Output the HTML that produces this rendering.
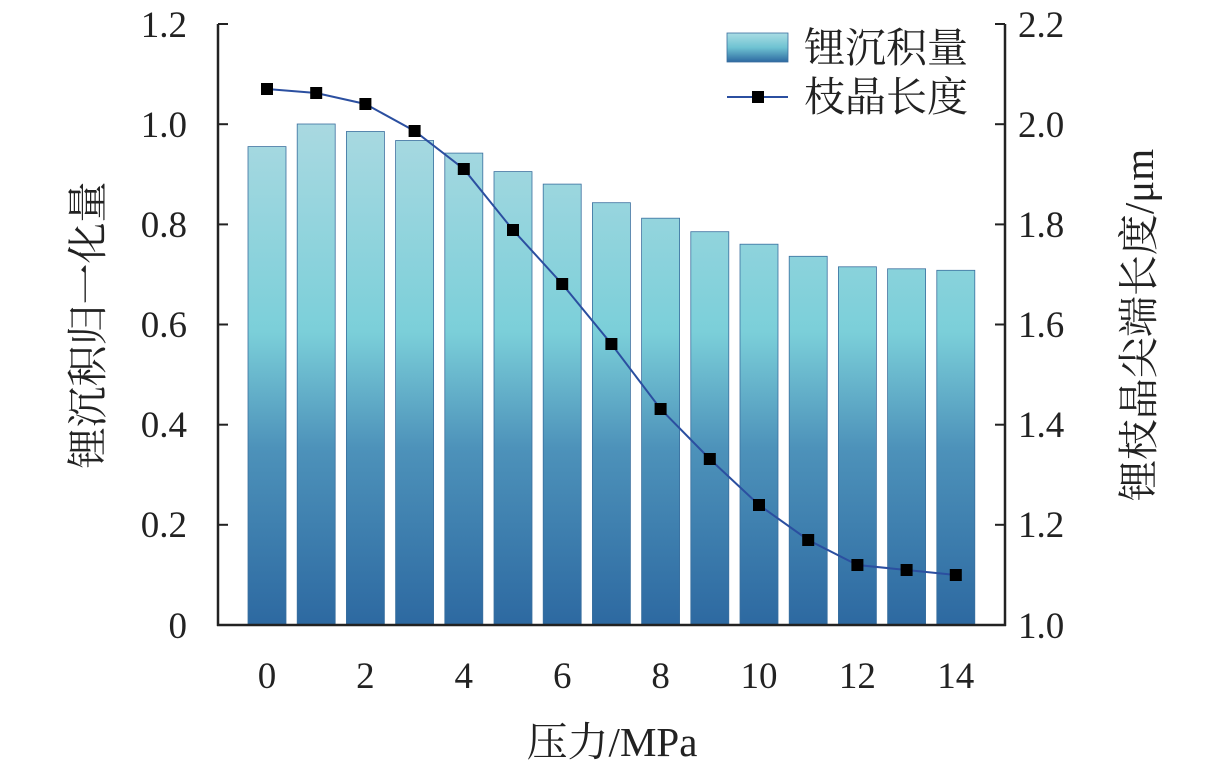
<!DOCTYPE html>
<html><head><meta charset="utf-8"><style>body{margin:0;background:#fff}</style></head><body>
<svg width="1228" height="767" xmlns="http://www.w3.org/2000/svg" font-family="'Liberation Serif','Noto Serif CJK SC',serif">
<defs>
<linearGradient id="g" gradientUnits="userSpaceOnUse" x1="0" y1="120" x2="0" y2="625">
<stop offset="0" stop-color="#aad9e1"/>
<stop offset="0.42" stop-color="#7bcfd9"/>
<stop offset="0.65" stop-color="#4d92ba"/>
<stop offset="1" stop-color="#2d69a1"/>
</linearGradient>
<linearGradient id="lg" x1="0" y1="0" x2="0" y2="1">
<stop offset="0" stop-color="#aadde4"/>
<stop offset="0.5" stop-color="#6fc3d2"/>
<stop offset="1" stop-color="#2d69a1"/>
</linearGradient>
</defs>
<g fill="url(#g)" stroke="#3a6f9e" stroke-width="0.8">
<rect x="248" y="146.6" width="38" height="478.4"/>
<rect x="297.2" y="124" width="38" height="501"/>
<rect x="346.4" y="131.5" width="38" height="493.5"/>
<rect x="395.6" y="140.5" width="38" height="484.5"/>
<rect x="444.8" y="153.1" width="38" height="471.9"/>
<rect x="494" y="171.6" width="38" height="453.4"/>
<rect x="543.2" y="184.1" width="38" height="440.9"/>
<rect x="592.4" y="202.7" width="38" height="422.3"/>
<rect x="641.6" y="218.2" width="38" height="406.8"/>
<rect x="690.8" y="231.7" width="38" height="393.3"/>
<rect x="740" y="244.2" width="38" height="380.8"/>
<rect x="789.2" y="256.3" width="38" height="368.7"/>
<rect x="838.4" y="266.8" width="38" height="358.2"/>
<rect x="887.6" y="268.8" width="38" height="356.2"/>
<rect x="936.8" y="270.3" width="38" height="354.7"/>
</g>
<g stroke="#222" stroke-width="2.5" fill="none">
<line x1="218" y1="24" x2="218" y2="626"/>
<line x1="1005" y1="24" x2="1005" y2="626"/>
<line x1="217" y1="625" x2="1006" y2="625"/>
</g>
<g stroke="#222" stroke-width="2">
<line x1="218" y1="24" x2="228" y2="24"/><line x1="218" y1="124.2" x2="228" y2="124.2"/><line x1="218" y1="224.4" x2="228" y2="224.4"/><line x1="218" y1="324.5" x2="228" y2="324.5"/><line x1="218" y1="424.7" x2="228" y2="424.7"/><line x1="218" y1="524.8" x2="228" y2="524.8"/>
<line x1="995" y1="24" x2="1005" y2="24"/><line x1="995" y1="124.2" x2="1005" y2="124.2"/><line x1="995" y1="224.4" x2="1005" y2="224.4"/><line x1="995" y1="324.5" x2="1005" y2="324.5"/><line x1="995" y1="424.7" x2="1005" y2="424.7"/><line x1="995" y1="524.8" x2="1005" y2="524.8"/>
</g>
<polyline fill="none" stroke="#2b4fa0" stroke-width="2" points="267,89 316.2,93 365.4,104 414.6,131 463.8,169 513,230 562.2,284 611.4,344 660.6,409 709.8,459 759,505 808.2,540 857.4,565 906.6,570 955.8,575"/>
<g fill="#000">
<rect x="261" y="83" width="12" height="12"/><rect x="310.2" y="87" width="12" height="12"/><rect x="359.4" y="98" width="12" height="12"/><rect x="408.6" y="125" width="12" height="12"/><rect x="457.8" y="163" width="12" height="12"/><rect x="507" y="224" width="12" height="12"/><rect x="556.2" y="278" width="12" height="12"/><rect x="605.4" y="338" width="12" height="12"/><rect x="654.6" y="403" width="12" height="12"/><rect x="703.8" y="453" width="12" height="12"/><rect x="753" y="499" width="12" height="12"/><rect x="802.2" y="534" width="12" height="12"/><rect x="851.4" y="559" width="12" height="12"/><rect x="900.6" y="564" width="12" height="12"/><rect x="949.8" y="569" width="12" height="12"/>
</g>
<g font-size="37" fill="#222" text-anchor="end">
<text x="187" y="37">1.2</text><text x="187" y="137">1.0</text><text x="187" y="237">0.8</text><text x="187" y="337">0.6</text><text x="187" y="437">0.4</text><text x="187" y="537">0.2</text><text x="187" y="638">0</text>
</g>
<g font-size="37" fill="#222">
<text x="1018" y="37">2.2</text><text x="1018" y="137">2.0</text><text x="1018" y="237">1.8</text><text x="1018" y="337">1.6</text><text x="1018" y="437">1.4</text><text x="1018" y="537">1.2</text><text x="1018" y="638">1.0</text>
</g>
<g font-size="37" fill="#222" text-anchor="middle">
<text x="267" y="688">0</text><text x="365.4" y="688">2</text><text x="463.8" y="688">4</text><text x="562.2" y="688">6</text><text x="660.6" y="688">8</text><text x="759" y="688">10</text><text x="857.4" y="688">12</text><text x="955.8" y="688">14</text>
</g>
<g font-size="41" fill="#222" text-anchor="middle">
<text x="612" y="756">压力/MPa</text>
<text transform="translate(102,325) rotate(-90)">锂沉积归一化量</text>
<text transform="translate(1153,325) rotate(-90)">锂枝晶尖端长度/μm</text>
</g>
<rect x="727" y="33" width="61" height="29" fill="url(#lg)" stroke="#3a6f9e" stroke-width="0.8"/>
<line x1="727" y1="97" x2="788" y2="97" stroke="#2b4fa0" stroke-width="2"/>
<rect x="752" y="91" width="12" height="12" fill="#000"/>
<g font-size="41" fill="#222">
<text x="804" y="62">锂沉积量</text>
<text x="804" y="111">枝晶长度</text>
</g>
</svg>
</body></html>
